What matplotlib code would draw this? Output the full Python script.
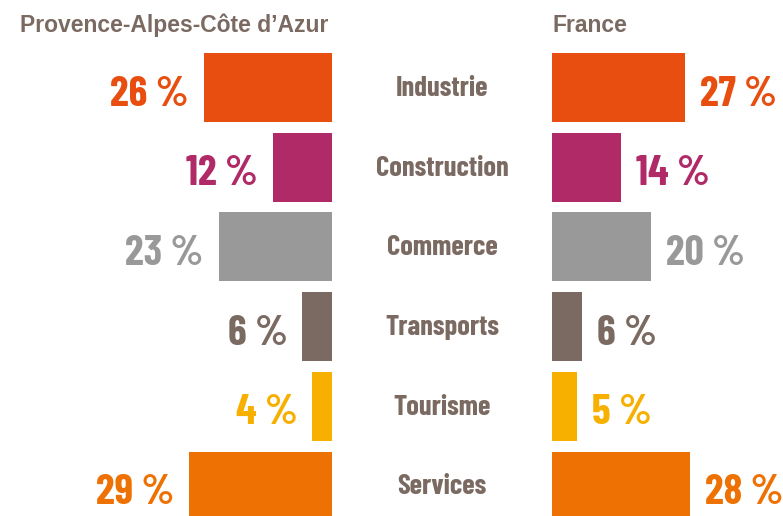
import matplotlib
matplotlib.use("Agg")
import matplotlib.pyplot as plt
from matplotlib import font_manager as fm

categories = ["Industrie", "Construction", "Commerce", "Transports", "Tourisme", "Services"]
paca = [26, 12, 23, 6, 4, 29]
france = [27, 14, 20, 6, 5, 28]
colors = ["#E84E0F", "#B02A68", "#999999", "#7A6A62", "#F7B000", "#EE7203"]
titles = ["Provence-Alpes-Côte d\u2019Azur", "France"]

TXT = "#7A6A62"

def pick(cands, **kw):
    for c in cands:
        try:
            fm.findfont(fm.FontProperties(family=c, **kw), fallback_to_default=False)
            return c
        except Exception:
            pass
    return "DejaVu Sans"

cond = pick(["Barlow Condensed", "Asap Condensed", "DejaVu Sans"], weight="bold")
reg = pick(["Liberation Sans", "DejaVu Sans"], weight="bold")
condprops = dict(family=[cond, "DejaVu Sans"], weight="bold")

W, H = 783, 516
fig = plt.figure(figsize=(W / 100, H / 100), dpi=100)

px_per_pct = 4.93
spacing = 79.7
first_center = 87.5
ybot = (H - first_center) / spacing
ytop = -first_center / spacing

axL = fig.add_axes([0, 0, 332 / W, 1])
axL.set_xlim(332 / px_per_pct, 0)
axL.set_ylim(ybot, ytop)
axR = fig.add_axes([552 / W, 0, (W - 552) / W, 1])
axR.set_xlim(0, (W - 552) / px_per_pct)
axR.set_ylim(ybot, ytop)

bh = 69 / spacing
ys = list(range(len(categories)))
axL.barh(ys, paca, height=bh, color=colors)
axR.barh(ys, france, height=bh, color=colors)

gap = 15 / px_per_pct
val_off = 18 / spacing
for i, (v, c) in enumerate(zip(paca, colors)):
    axL.text(v + gap, i + val_off, f"{v} %", ha="right", va="baseline", color=c, fontsize=30.5, **condprops)
for i, (v, c) in enumerate(zip(france, colors)):
    axR.text(v + gap, i + val_off, f"{v} %", ha="left", va="baseline", color=c, fontsize=30.5, **condprops)

for ax in (axL, axR):
    ax.axis("off")

for i, cat in enumerate(categories):
    yfig = 1 - (first_center + i * spacing + 8.5) / H
    fig.text(442 / W, yfig, cat, ha="center", va="baseline", color=TXT, fontsize=20.5, **condprops)

fig.text(20 / W, 1 - 32 / H, titles[0], ha="left", va="baseline", color=TXT, fontsize=16.5, family=reg, weight="bold")
fig.text(552 / W, 1 - 32 / H, titles[1], ha="left", va="baseline", color=TXT, fontsize=16.5, family=reg, weight="bold")

fig.savefig("out.png", dpi=100)
